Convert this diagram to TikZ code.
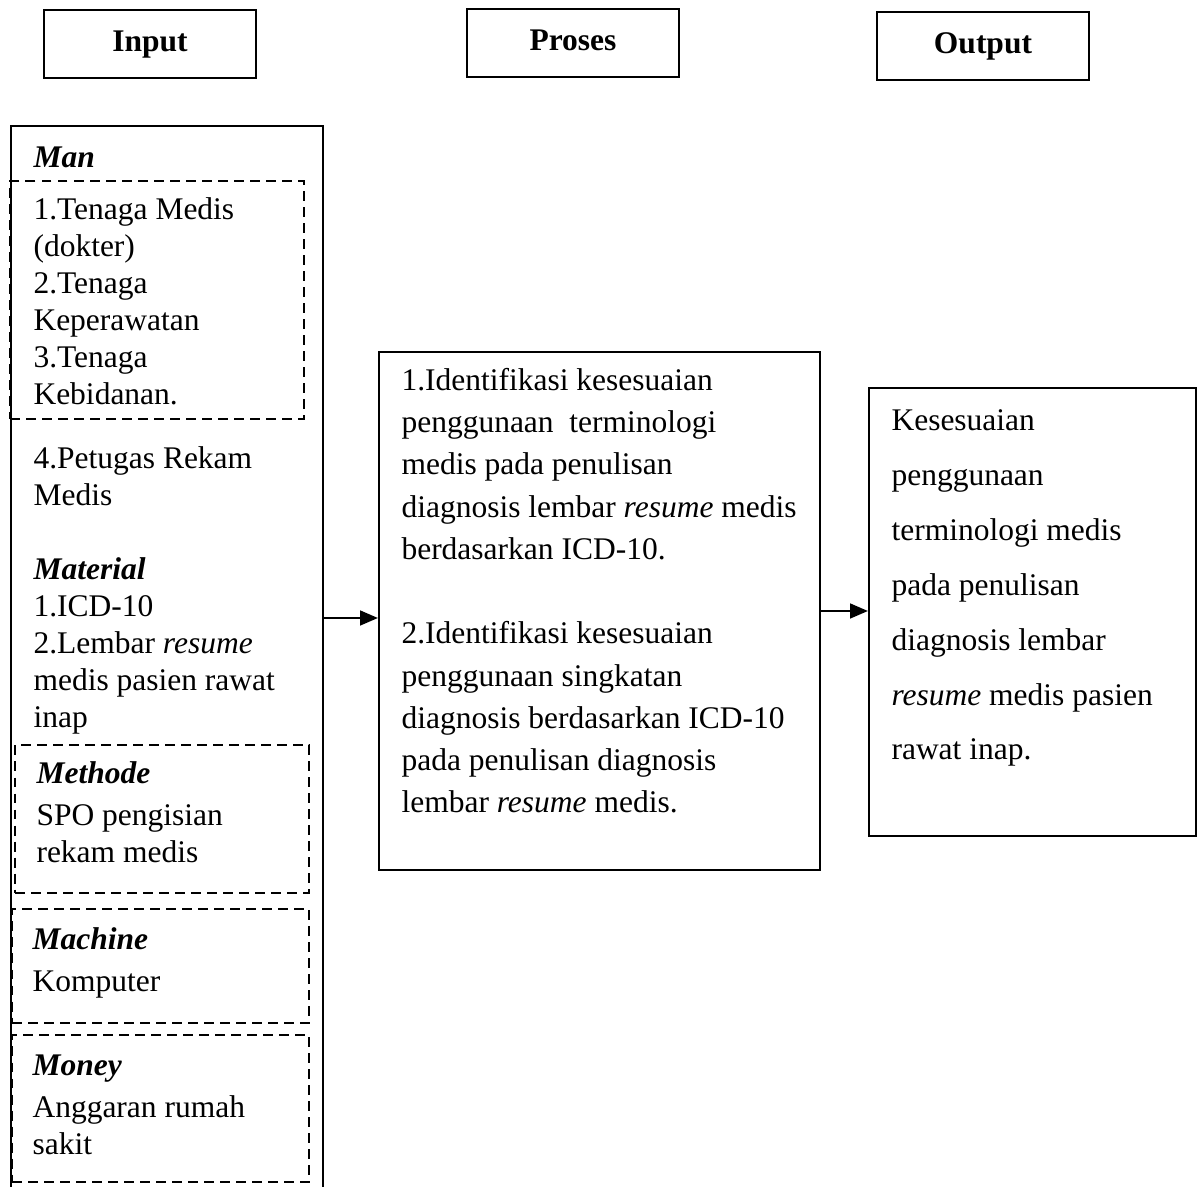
\documentclass[tikz,border=0pt]{standalone}
\usepackage{fontspec}
\setmainfont{Liberation Serif}
\usetikzlibrary{arrows.meta,fit}

\tikzset{
	headbox/.style={draw, line width=0.9pt, minimum width=80.8pt, minimum height=25.9pt, inner sep=0pt, text height=8.2pt, text depth=2.6pt, font=\fontsize{12}{14}\selectfont\bfseries},
	boxframe/.style={fit={#1}, inner sep=0pt, line width=0.8pt},
	dashframe/.style={fit={#1}, inner sep=0pt, draw, line width=0.9pt, dash pattern=on 3.8pt off 2.3pt},
	txt/.style={anchor=base west, inner sep=0pt, align=left, font=\fontsize{12}{14.1}\selectfont},
	arr/.style={line width=0.9pt, -{Triangle[length=6.8pt,width=5.6pt]}},
}
\newcommand{\bi}[1]{\textbf{\textit{#1}}}

\begin{document}
\begin{tikzpicture}[x=0.381pt, y=-0.381pt]
			%%%%% START %%%%%
			\useasboundingbox (0,0) rectangle (1200,1187);
			
			% headers
			\node[headbox] (hinput) at (150, 44) {Input};
			\node[headbox] (hproses) at (573, 43) {Proses};
			\node[headbox] (houtput) at (983, 46) {Output};
			
			% input column
			\node[boxframe={(12,127) (322,1187)}] (incol) {};
			\draw[line width=0.8pt] (incol.south west) -- (incol.north west) -- (incol.north east) -- (incol.south east);
			
			\node[dashframe={(10,181) (304,419)}] (dman) {};
			\node[dashframe={(15,745) (309,893)}] (dmethode) {};
			\node[dashframe={(12,909) (309,1023)}] (dmachine) {};
			\node[dashframe={(12,1035) (309,1182)}] (dmoney) {};
			
			% text anchored at the baseline of its last line
			\node[txt] (tman) at (33, 168) {\bi{Man}};
			\node[txt] (tmanlist) at (33, 405) {1.Tenaga Medis\\(dokter)\\2.Tenaga\\Keperawatan\\3.Tenaga\\Kebidanan.};
			\node[txt] (tmaterial) at (33, 728) {4.Petugas Rekam\\Medis\\[14.1pt]\bi{Material}\\1.ICD-10\\2.Lembar \textit{resume}\\medis pasien rawat\\inap};
			\node[txt] (tmethode) at (36, 863) {\bi{Methode}\\[2pt]SPO pengisian\\rekam medis};
			\node[txt] (tmachine) at (32, 992) {\bi{Machine}\\[2pt]Komputer};
			\node[txt] (tmoney) at (32, 1155) {\bi{Money}\\[2pt]Anggaran rumah\\sakit};
			
			% proses
			\node[boxframe={(379,352) (820,870)}, draw] (proses) {};
			\node[txt, font=\fontsize{12}{16.1}\selectfont] (tproses) at (401, 813) {1.Identifikasi kesesuaian\\penggunaan\ \ terminologi\\medis pada penulisan\\diagnosis lembar \textit{resume} medis\\berdasarkan ICD-10.\\[16.1pt]2.Identifikasi kesesuaian\\penggunaan singkatan\\diagnosis berdasarkan ICD-10\\pada penulisan diagnosis\\lembar \textit{resume} medis.};
			
			% output
			\node[boxframe={(869,388) (1196,836)}, draw] (output) {};
			\node[txt, font=\fontsize{12}{20.9}\selectfont] (toutput) at (891, 760) {Kesesuaian\\penggunaan\\terminologi medis\\pada penulisan\\diagnosis lembar\\\textit{resume} medis pasien\\rawat inap.};
			
			% arrows
			\coordinate (mid1) at (350, 618);
			\draw[arr] (incol.east |- mid1) -- (proses.west |- mid1);
			\draw[arr] (proses.east) -- (output.west |- proses.east);
			
			%%%%% END %%%%%
\end{tikzpicture}
\end{document}
